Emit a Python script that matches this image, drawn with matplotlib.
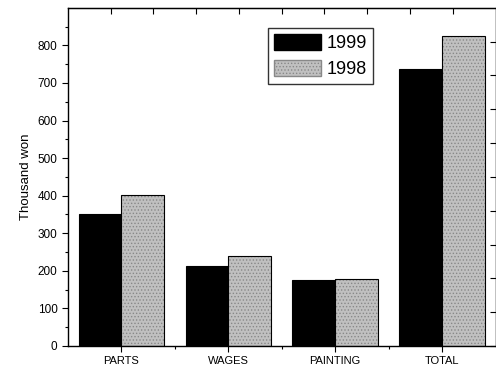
import numpy as np
import matplotlib
matplotlib.use("Agg")
import matplotlib.pyplot as plt
from matplotlib.patches import Patch

plt.rcParams['font.family'] = ['Liberation Sans', 'DejaVu Sans']
plt.rcParams['hatch.linewidth'] = 0.6

categories = ['PARTS', 'WAGES', 'PAINTING', 'TOTAL']
values_1999 = [352, 212, 176, 738]
values_1998 = [401, 240, 178, 826]
series_labels = ['1999', '1998']

GRAY = '#c0c0c0'
SPECK = '#888888'

fig = plt.figure(figsize=(4.96, 3.74), dpi=100)
ax = fig.add_axes([0.137, 0.075, 0.862, 0.904])

x = np.arange(len(categories))
w = 0.4
ax.bar(x - w / 2, values_1999, w, color='black', edgecolor='black', linewidth=0.8)
# speckled gray fill, then a black outline on top
ax.bar(x + w / 2, values_1998, w, color=GRAY, edgecolor=SPECK,
       linewidth=0, hatch='.....')
ax.bar(x + w / 2, values_1998, w, fill=False, edgecolor='black', linewidth=0.8)

ax.set_xlim(-0.5, 3.5)
ax.set_ylim(0, 900)
ax.set_xticks(x)
ax.set_xticklabels(categories, fontsize=8)
ax.set_xticks(x[:-1] + 0.5, minor=True)
ax.set_yticks(np.arange(0, 900, 100))
ax.set_yticks(np.arange(50, 900, 100), minor=True)
ax.tick_params(axis='y', labelsize=8.5, direction='out', length=4, width=0.8)
ax.tick_params(axis='x', direction='out', length=4, width=0.8)
ax.tick_params(which='minor', direction='out', length=2.5, width=0.8)
ax.tick_params(right=False, top=False)
ax.set_ylabel('Thousand won', fontsize=9.5, labelpad=4)

for s in ax.spines.values():
    s.set_linewidth(1.0)

# decorative ticks on top and right axes
top = ax.secondary_xaxis('top')
top.set_xticks(np.arange(-0.1, 3.5, 0.4))
top.tick_params(direction='in', length=4, labeltop=False)
right = ax.secondary_yaxis('right')
right.set_yticks(np.arange(0, 900, 90))
right.tick_params(direction='in', length=4, labelright=False)

handles = [Patch(facecolor='black', edgecolor='black'),
           Patch(facecolor=GRAY, edgecolor=SPECK, hatch='.....')]
leg = ax.legend(handles, series_labels, loc='upper left',
                bbox_to_anchor=(0.467, 0.941), fontsize=13, frameon=True,
                fancybox=False, edgecolor='black', handlelength=2.6,
                handleheight=1.0, handletextpad=0.3, borderpad=0.35,
                labelspacing=0.4, borderaxespad=0)
leg.get_frame().set_linewidth(1.0)

fig.savefig('out.png', dpi=100)
